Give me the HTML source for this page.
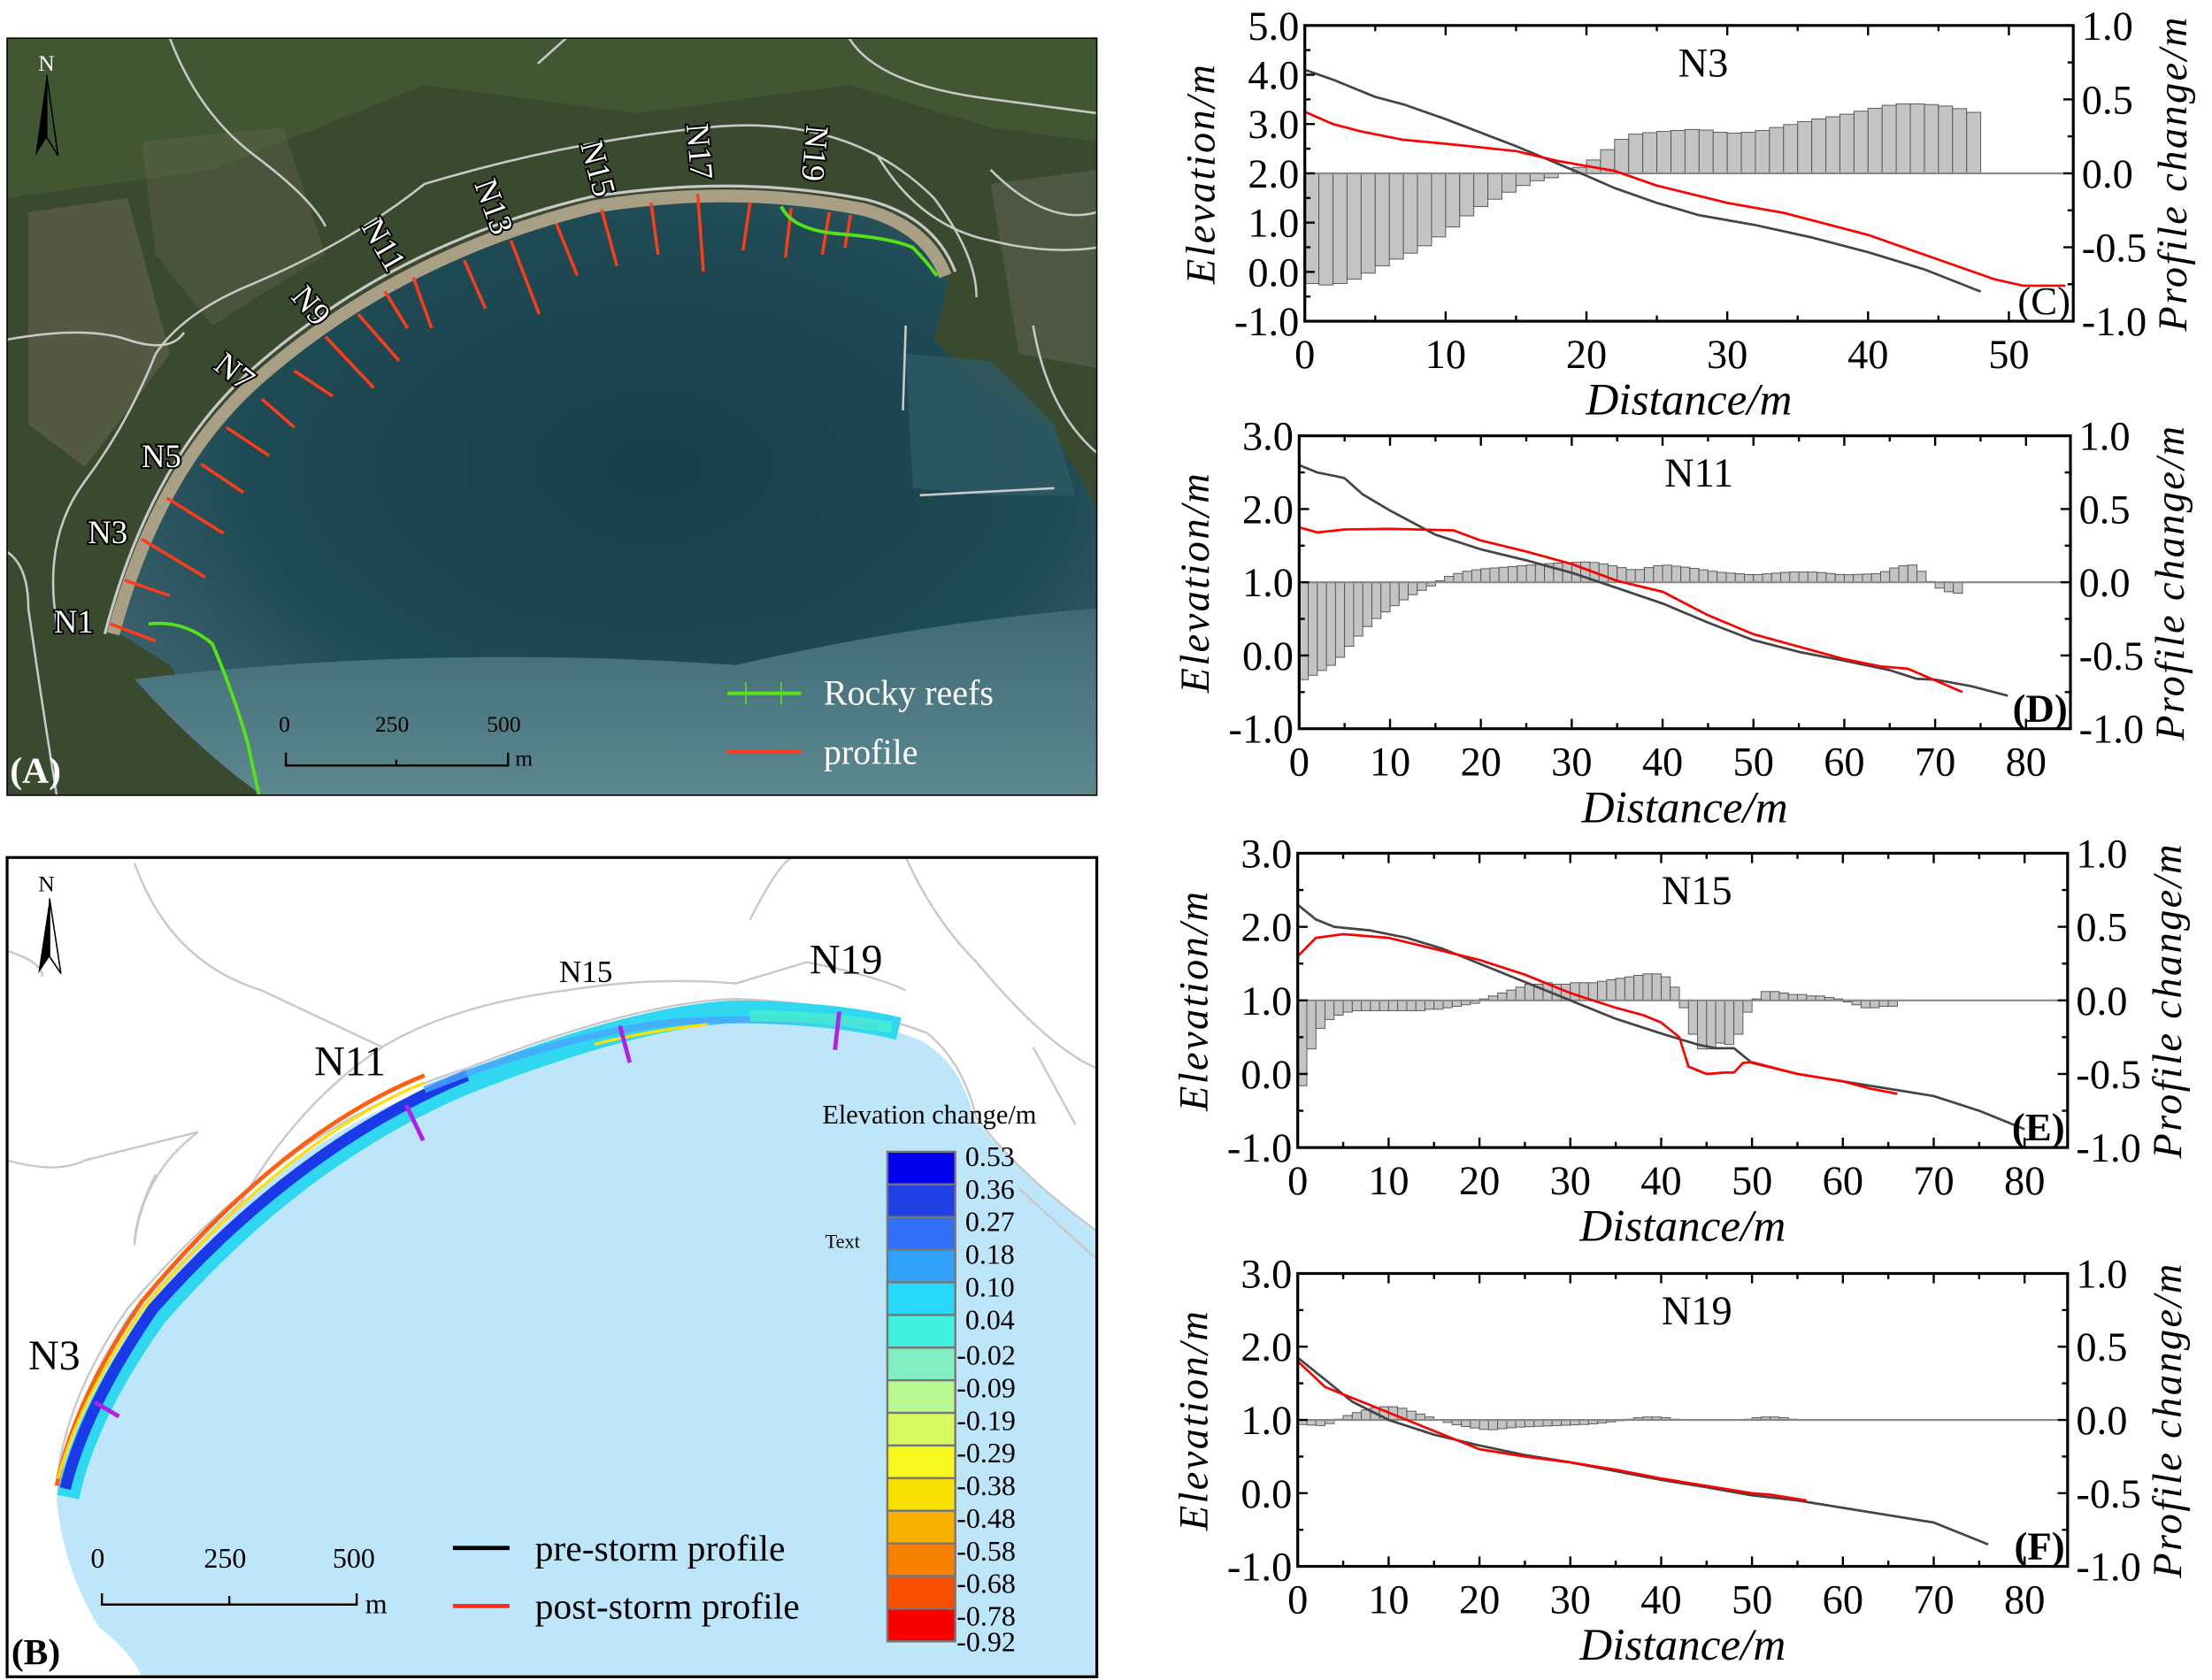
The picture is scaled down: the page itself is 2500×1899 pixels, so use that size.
<!DOCTYPE html>
<html><head><meta charset="utf-8"><style>
html,body{margin:0;padding:0;background:#fff;}
svg{display:block;}
text{font-family:"Liberation Serif",serif;}
</style></head><body>
<svg id="s" xmlns="http://www.w3.org/2000/svg" width="2500" height="1899" viewBox="0 0 1563 1187.3">
<defs>
<radialGradient id="sea" cx="0.55" cy="0.45" r="0.6">
<stop offset="0" stop-color="#173f4a"/><stop offset="0.7" stop-color="#1f4b55"/><stop offset="1" stop-color="#38606a"/>
</radialGradient>
<linearGradient id="seab" x1="0" y1="0" x2="0" y2="1">
<stop offset="0" stop-color="#3f6a74"/><stop offset="1" stop-color="#5c8890"/>
</linearGradient>
</defs>
<!-- Panel A -->
<g>
<rect x="5" y="27" width="770" height="535" fill="#3a4a2e"/>
<path d="M5 27 H775 V100 L700 90 L600 60 L450 80 L300 60 L150 120 L5 140Z" fill="#435a34" opacity="0.8"/>
<path d="M20 150 L90 140 L120 250 L60 330 L20 300Z" fill="#6d6a55" opacity="0.5"/>
<path d="M100 100 L200 90 L230 180 L150 230 L110 180Z" fill="#6a6650" opacity="0.35"/>
<path d="M700 130 L775 120 L775 260 L720 250Z" fill="#6b6a5a" opacity="0.45"/>
<!-- sea -->
<path d="M80 445 Q110 330 180 270 Q280 180 420 148 Q520 132 610 150 Q665 170 670 200 L660 240 Q700 280 740 300 Q760 330 775 360 V562 H190 Q150 520 120 470 Z" fill="url(#sea)"/>
<path d="M95 480 Q300 455 520 470 Q650 440 775 430 V562 H185 Q140 530 95 480Z" fill="url(#seab)"/>
<path d="M640 250 L700 255 L745 300 L760 350 L700 350 L645 345Z" fill="#2e5a64" opacity="0.8"/>
<!-- beach -->
<path d="M80 448 Q112 330 182 268 Q282 180 420 146 Q520 130 610 148 Q655 160 668 195" fill="none" stroke="#a99f85" stroke-width="9"/>
<path d="M74 448 Q106 326 177 262 Q278 172 418 139 Q520 123 612 141 Q660 153 675 192" fill="none" stroke="#c8c8c8" stroke-width="2"/>
<!-- roads -->
<g fill="none" stroke="#c9c9c9" stroke-width="1.6">
<path d="M40 440 Q30 380 60 340 Q90 300 110 250 Q130 220 180 200 Q250 170 300 130 Q400 100 500 90 Q600 80 660 140 Q690 180 690 210"/>
<path d="M120 27 Q140 80 180 110 Q220 140 230 160"/>
<path d="M5 240 Q60 230 90 240 Q120 250 130 235"/>
<path d="M5 390 Q20 400 20 430 Q30 500 40 562"/>
<path d="M600 27 Q620 60 700 70 L775 80"/>
<path d="M700 120 Q740 160 775 150"/>
<path d="M380 45 L400 27"/><path d="M620 110 Q650 160 700 170 Q740 180 775 175"/>
<path d="M730 230 Q740 290 775 320"/>
<path d="M640 230 L638 290"/><path d="M650 350 L745 345"/>
</g>
<!-- profiles -->
<g stroke="#ff3b1a" stroke-width="2.2">
<line x1="78" y1="441" x2="110" y2="453"/><line x1="88" y1="410" x2="120" y2="421"/>
<line x1="100" y1="381" x2="145" y2="408"/><line x1="118" y1="352" x2="158" y2="377"/>
<line x1="142" y1="328" x2="172" y2="348"/><line x1="160" y1="302" x2="190" y2="322"/>
<line x1="185" y1="282" x2="208" y2="302"/><line x1="208" y1="262" x2="235" y2="280"/>
<line x1="230" y1="238" x2="264" y2="274"/><line x1="253" y1="222" x2="282" y2="255"/>
<line x1="272" y1="206" x2="288" y2="232"/><line x1="292" y1="196" x2="305" y2="232"/>
<line x1="328" y1="184" x2="343" y2="218"/><line x1="361" y1="170" x2="381" y2="222"/>
<line x1="393" y1="158" x2="408" y2="195"/><line x1="425" y1="148" x2="436" y2="188"/>
<line x1="460" y1="143" x2="465" y2="180"/><line x1="493" y1="137" x2="497" y2="192"/>
<line x1="530" y1="143" x2="525" y2="177"/><line x1="559" y1="147" x2="555" y2="182"/>
<line x1="586" y1="150" x2="581" y2="180"/><line x1="601" y1="152" x2="597" y2="175"/>
</g>
<g fill="none" stroke="#55e21a" stroke-width="2.4">
<path d="M105 441 Q130 438 150 455 Q165 490 175 525 L183 562"/>
<path d="M552 146 Q560 162 590 165 Q630 168 645 175 Q655 185 662 195"/>
</g>
<g fill="#fff" stroke="#000" stroke-width="2.5" paint-order="stroke" font-size="23" font-family="Liberation Serif">
<text x="38" y="447">N1</text><text x="62" y="384">N3</text><text x="100" y="330">N5</text>
<text transform="translate(150,260) rotate(38)">N7</text>
<text transform="translate(205,210) rotate(50)">N9</text>
<text transform="translate(255,160) rotate(60)">N11</text>
<text transform="translate(335,130) rotate(70)">N13</text>
<text transform="translate(410,102) rotate(75)">N15</text>
<text transform="translate(485,88) rotate(85)">N17</text>
<text transform="translate(570,88) rotate(95)">N19</text>
</g>
<text x="27" y="50" font-size="16" fill="#fff" font-family="Liberation Sans">N</text>
<path d="M33 53 L25 110 L33 97Z" fill="#000"/><path d="M33 53 L41 110 L33 97Z" fill="none" stroke="#000" stroke-width="1"/>
<g stroke="#000" stroke-width="1.5" fill="none"><path d="M202 532 V541 H359 V532 M280 537 V541"/></g>
<g font-size="16" fill="#000"><text x="197" y="517">0</text><text x="265" y="517">250</text><text x="344" y="517">500</text><text x="364" y="541">m</text></g>
<line x1="514" y1="490" x2="566" y2="490" stroke="#55e21a" stroke-width="2.5"/>
<line x1="527" y1="482" x2="527" y2="498" stroke="#55e21a" stroke-width="1"/><line x1="552" y1="482" x2="552" y2="498" stroke="#55e21a" stroke-width="1"/>
<line x1="514" y1="531" x2="566" y2="531" stroke="#ff3b1a" stroke-width="2.5"/>
<g fill="#fff" font-size="25"><text x="582" y="498">Rocky  reefs</text><text x="582" y="540">profile</text></g>
<text x="7" y="553" font-size="26" font-weight="bold" fill="#fff">(A)</text>
<rect x="5" y="27" width="770" height="535" fill="none" stroke="#000" stroke-width="1"/>
</g>
<!-- Panel B -->
<g>
<rect x="5" y="606" width="770" height="579" fill="#fff"/>
<path d="M40 1060 Q45 1000 90 930 Q200 800 330 760 Q450 715 520 712 Q600 715 650 735 Q680 752 688 790 Q720 830 775 870 V1185 H100 Q95 1170 70 1150 Q45 1110 40 1060Z" fill="#bee6fa"/>
<g fill="none" stroke="#c8c8c8" stroke-width="1.5">
<path d="M40 1050 Q45 990 90 925 Q200 795 330 755 Q450 708 520 706 Q600 709 655 730 Q680 750 690 790 Q720 830 775 870"/>
<path d="M95 610 Q120 680 185 700 L270 740 Q210 780 170 850 Q120 900 100 925"/>
<path d="M5 672 Q30 680 30 690"/><path d="M5 820 Q40 830 60 820 Q100 810 140 800"/>
<path d="M140 800 Q100 830 95 880 Q95 860 110 830"/>
<path d="M270 740 Q320 710 400 700 Q460 690 520 695 L570 680 Q620 690 640 700"/>
<path d="M530 650 Q550 610 560 606"/><path d="M640 606 Q660 650 690 680 Q740 740 775 755"/>
<path d="M730 740 L760 795"/><path d="M720 840 L775 890"/>
</g>
<!-- colored strip -->
<path d="M48 1058 Q60 1000 110 930 Q210 815 330 765 Q450 718 520 715 Q590 716 635 727" fill="none" stroke="#2fd8f0" stroke-width="16"/>
<path d="M46 1052 Q60 995 108 925 Q210 810 330 760" fill="none" stroke="#1a3ae8" stroke-width="8"/>
<path d="M40 1050 Q52 990 100 920 Q200 800 300 760" fill="none" stroke="#ff6010" stroke-width="3"/>
<path d="M41 1045 Q55 990 103 922 Q203 805 300 765" fill="none" stroke="#ffe000" stroke-width="2"/>
<path d="M300 770 Q400 730 480 722 Q560 718 620 725" fill="none" stroke="#4aa6ff" stroke-width="5" opacity="0.8"/>
<path d="M420 738 Q460 728 500 724" fill="none" stroke="#ffe000" stroke-width="2"/>
<path d="M530 718 Q580 718 630 726" fill="none" stroke="#48f0d0" stroke-width="8" opacity="0.8"/>
<g stroke="#b020e8" stroke-width="3">
<line x1="67" y1="991" x2="84" y2="1001"/><line x1="287" y1="781" x2="299" y2="806"/>
<line x1="438" y1="725" x2="445" y2="751"/><line x1="593" y1="715" x2="590" y2="742"/>
</g>
<g font-size="30" fill="#000"><text x="20" y="968">N3</text><text x="222" y="760">N11</text><text x="572" y="688">N19</text></g>
<text x="395" y="694" font-size="22">N15</text>
<text x="27" y="630" font-size="16" font-family="Liberation Sans">N</text>
<path d="M35 635 L27 688 L35 676Z" fill="#000"/><path d="M35 635 L43 688 L35 676Z" fill="none" stroke="#000"/>
<text x="581" y="794" font-size="19">Elevation change/m</text>
<text x="583" y="882" font-size="14" font-family="Liberation Mono">Text</text>
<g id="cbar"></g>
<g stroke="#000" stroke-width="1.5" fill="none"><path d="M72 1126 V1134 H252 V1126 M162 1128 V1134"/></g>
<g font-size="20"><text x="64" y="1108">0</text><text x="144" y="1108">250</text><text x="235" y="1108">500</text><text x="258" y="1140">m</text>
<text x="378" y="1103" font-size="26">pre-storm profile</text><text x="378" y="1144" font-size="26">post-storm profile</text></g>
<line x1="320" y1="1094" x2="360" y2="1094" stroke="#000" stroke-width="3"/>
<line x1="320" y1="1135" x2="360" y2="1135" stroke="#ff2a1a" stroke-width="3"/>
<text x="8" y="1176" font-size="26" font-weight="bold">(B)</text>
<rect x="5" y="606" width="770" height="579" fill="none" stroke="#000" stroke-width="2"/>
</g>
<g id="charts"></g>
</svg>
<script>
(function(){
var cols=["#0000f0","#2040e8","#3070f8","#30a0f8","#28d8f8","#40f0e0","#80f0c0","#b8f890","#d8f860","#f8f820","#f8e000","#f8b000","#f88000","#f85000","#f80000"];
var labs=["0.53","0.36","0.27","0.18","0.10","0.04","-0.02","-0.09","-0.19","-0.29","-0.38","-0.48","-0.58","-0.68","-0.78","-0.92"];
var h="",y0=814,ch=(1160-814)/15;
for(var i=0;i<15;i++)h+='<rect x="627" y="'+(y0+i*ch)+'" width="48" height="'+ch+'" fill="'+cols[i]+'" stroke="#777" stroke-width="1.5"/>';
for(var i=0;i<16;i++){var y=(i==15)?1167:y0+i*ch+10+(i>5?2:0);h+='<text x="'+(labs[i][0]=="-"?676:682)+'" y="'+y+'" font-size="20">'+labs[i]+'</text>';}
document.getElementById("cbar").innerHTML=h;
})();
function chart(c){
var X=function(v){return c.x0+v*c.kx;};
var YL=function(v){return c.y1-(v-c.ymin)/(c.ymax-c.ymin)*(c.y1-c.y0);};
var YR=function(v){return c.y1-(v+1)/2*(c.y1-c.y0);};
var h="";
h+='<rect x="'+c.x0+'" y="'+c.y0+'" width="'+(c.x1-c.x0)+'" height="'+(c.y1-c.y0)+'" fill="#fff"/>';
var z=YR(0);
for(var i=0;i<c.bars.length;i++){var v=c.bars[i];var y=YR(v);
h+='<rect x="'+X(i)+'" y="'+Math.min(y,z)+'" width="'+c.kx+'" height="'+Math.abs(z-y)+'" fill="#c4c4c4" stroke="#555" stroke-width="0.6"/>';}
h+='<line x1="'+c.x0+'" y1="'+z+'" x2="'+c.x1+'" y2="'+z+'" stroke="#888" stroke-width="1.3"/>';
function pl(p,col){var s="";for(var i=0;i<p.length;i++)s+=(i?"L":"M")+X(p[i][0]).toFixed(1)+" "+YL(p[i][1]).toFixed(1);
return '<path d="'+s+'" fill="none" stroke="'+col+'" stroke-width="1.7" stroke-linejoin="round"/>';}
h+=pl(c.black,"#444");h+=pl(c.red,"#ff0000");
h+='<rect x="'+c.x0+'" y="'+c.y0+'" width="'+(c.x1-c.x0)+'" height="'+(c.y1-c.y0)+'" fill="none" stroke="#000" stroke-width="2"/>';
for(var v=0;X(v)<c.x1-1;v+=5){var x=X(v),L=(v%10==0)?7:4;
h+='<line x1="'+x+'" y1="'+c.y1+'" x2="'+x+'" y2="'+(c.y1-L)+'" stroke="#000" stroke-width="1.5"/>';
h+='<line x1="'+x+'" y1="'+c.y0+'" x2="'+x+'" y2="'+(c.y0+L)+'" stroke="#000" stroke-width="1.5"/>';
if(v%10==0&&v<=c.xmaxLab)h+='<text x="'+x+'" y="'+(c.y1+33)+'" font-size="29" text-anchor="middle">'+v+'</text>';}
var n=(c.ymax-c.ymin)*2;
for(var i=0;i<=n;i++){var y=c.y1-i/n*(c.y1-c.y0),L=(i%2==0)?7:4;
h+='<line x1="'+c.x0+'" y1="'+y+'" x2="'+(c.x0+L)+'" y2="'+y+'" stroke="#000" stroke-width="1.5"/>';
if(i%2==0){var v=c.ymin+i/2;h+='<text x="'+(c.x0-4)+'" y="'+(y+10)+'" font-size="29" text-anchor="end">'+v.toFixed(1)+'</text>';}}
for(var i=0;i<=8;i++){var y=c.y1-i/8*(c.y1-c.y0),L=(i%2==0)?7:4;
h+='<line x1="'+c.x1+'" y1="'+y+'" x2="'+(c.x1-L)+'" y2="'+y+'" stroke="#000" stroke-width="1.5"/>';
if(i%2==0){var v=-1+i/4;h+='<text x="'+(c.x1+6)+'" y="'+(y+10)+'" font-size="29">'+v.toFixed(1)+'</text>';}}
var cy=(c.y0+c.y1)/2;
h+='<text transform="translate('+(c.x0-64)+','+cy+') rotate(-90)" font-size="29" font-style="italic" text-anchor="middle" letter-spacing="1.5">Elevation/m</text>';
h+='<text transform="translate('+(c.x1+80)+','+cy+') rotate(-90)" font-size="29" font-style="italic" text-anchor="middle" letter-spacing="1.5">Profile change/m</text>';
h+='<text x="'+((c.x0+c.x1)/2)+'" y="'+(c.y1+66)+'" font-size="32" font-style="italic" text-anchor="middle">Distance/m</text>';
h+='<text x="'+((c.x0+c.x1)/2+10)+'" y="'+(c.y0+36)+'" font-size="29" text-anchor="middle">'+c.name+'</text>';
h+='<text x="'+(c.x1-2)+'" y="'+(c.y1-5)+'" font-size="28" text-anchor="end" font-weight="'+(c.bold?"bold":"normal")+'">'+c.lab+'</text>';
return h;}
function interp(pts,n){var a=[];for(var i=0;i<n;i++){var x=i+0.5;for(var j=1;j<pts.length;j++){if(x<=pts[j][0]){var p=pts[j-1],q=pts[j];a.push(p[1]+(q[1]-p[1])*(x-p[0])/(q[0]-p[0]));break;}}if(a.length<i+1)a.push(pts[pts.length-1][1]);}return a;}
var H="";
H+=chart({x0:922,x1:1465,y0:18,y1:227,kx:9.95,ymin:-1,ymax:5,xmaxLab:50,name:"N3",lab:"(C)",
bars:interp([[0,-0.74],[2,-0.76],[4,-0.7],[6,-0.6],[8,-0.52],[10,-0.4],[12,-0.25],[14,-0.15],[16,-0.06],[18,-0.02],[19,0.02],[20,0.06],[21,0.12],[22,0.2],[23,0.26],[25,0.28],[28,0.3],[30,0.27],[32,0.28],[34,0.32],[36,0.36],[38,0.39],[40,0.43],[42,0.47],[44,0.47],[46,0.45],[48,0.4]],48),
black:[[0,4.1],[2,3.9],[5,3.55],[7,3.4],[10,3.1],[15,2.55],[20,1.95],[22,1.7],[25,1.4],[28,1.15],[32,0.95],[36,0.7],[40,0.4],[44,0.05],[48,-0.4]],
red:[[0,3.25],[2,3.0],[4,2.85],[7,2.68],[10,2.6],[15,2.45],[18,2.25],[20,2.15],[22,2.05],[25,1.75],[30,1.4],[34,1.2],[40,0.75],[44,0.35],[49,-0.15],[51,-0.28],[54,-0.28]]});
H+=chart({x0:918,x1:1463,y0:308,y1:515,kx:6.42,ymin:-1,ymax:3,xmaxLab:80,name:"N11",lab:"(D)",bold:1,
bars:interp([[0,-0.68],[2,-0.62],[4,-0.55],[6,-0.4],[8,-0.27],[10,-0.18],[12,-0.1],[14,-0.04],[15,-0.01],[16,0.03],[18,0.07],[20,0.09],[24,0.11],[28,0.13],[32,0.14],[34,0.12],[37,0.08],[40,0.12],[43,0.1],[46,0.07],[50,0.05],[54,0.07],[57,0.07],[60,0.05],[64,0.06],[66,0.11],[68,0.12],[69,0.03],[70,-0.02],[71,-0.06],[73,-0.08]],73),
black:[[0,2.6],[2,2.5],[4,2.45],[5,2.42],[7,2.2],[10,1.98],[15,1.65],[20,1.45],[25,1.3],[30,1.13],[35,0.92],[40,0.71],[45,0.45],[50,0.21],[55,0.05],[60,-0.07],[65,-0.2],[68,-0.32],[70,-0.33],[74,-0.42],[78,-0.55]],
red:[[0,1.75],[2,1.68],[5,1.72],[10,1.73],[17,1.71],[20,1.57],[25,1.42],[30,1.25],[35,1.02],[40,0.87],[45,0.55],[50,0.29],[55,0.12],[60,-0.05],[64,-0.15],[67,-0.18],[73,-0.5]]});
H+=chart({x0:917,x1:1461,y0:603,y1:811,kx:6.42,ymin:-1,ymax:3,xmaxLab:80,name:"N15",lab:"(E)",bold:1,
bars:[-0.58,-0.33,-0.19,-0.13,-0.1,-0.08,-0.07,-0.07,-0.07,-0.07,-0.07,-0.07,-0.07,-0.07,-0.06,-0.06,-0.05,-0.04,-0.03,-0.02,0.01,0.03,0.05,0.07,0.09,0.11,0.11,0.12,0.11,0.11,0.12,0.12,0.12,0.13,0.14,0.15,0.16,0.17,0.18,0.18,0.16,0.09,-0.05,-0.23,-0.33,-0.33,-0.29,-0.3,-0.23,-0.08,0.01,0.06,0.06,0.05,0.04,0.04,0.03,0.03,0.02,0.01,-0.01,-0.03,-0.05,-0.05,-0.04,-0.04],
black:[[0,2.3],[2,2.1],[4,2.0],[8,1.95],[12,1.85],[16,1.7],[20,1.5],[25,1.25],[30,1.0],[35,0.75],[40,0.55],[44,0.4],[46,0.35],[48,0.35],[50,0.15],[55,0.0],[60,-0.1],[65,-0.2],[70,-0.3],[75,-0.5],[80,-0.75]],
red:[[0,1.6],[2,1.85],[5,1.9],[10,1.85],[15,1.7],[20,1.55],[25,1.35],[30,1.1],[35,0.9],[38,0.8],[40,0.7],[42,0.5],[43,0.1],[44,0.05],[45,0.0],[47,0.02],[48,0.02],[49,0.15],[50,0.16],[55,0.0],[60,-0.1],[63,-0.2],[66,-0.27]]});
H+=chart({x0:917,x1:1461,y0:900,y1:1107,kx:6.42,ymin:-1,ymax:3,xmaxLab:80,name:"N19",lab:"(F)",bold:1,
bars:interp([[0,-0.03],[3,-0.04],[4,-0.01],[5,0.02],[7,0.06],[9,0.09],[11,0.09],[13,0.05],[15,0.01],[16,-0.01],[18,-0.04],[21,-0.07],[24,-0.05],[28,-0.04],[32,-0.03],[35,-0.01],[36,0],[38,0.02],[40,0.02],[42,0.0],[44,0],[49,0],[51,0.02],[53,0.02],[55,0.0],[56,0]],56),
black:[[0,1.85],[3,1.55],[6,1.25],[10,1.0],[15,0.8],[20,0.65],[25,0.52],[30,0.42],[35,0.3],[40,0.18],[45,0.08],[50,-0.03],[55,-0.1],[60,-0.2],[65,-0.3],[70,-0.4],[76,-0.7]],
red:[[0,1.8],[3,1.45],[5,1.35],[8,1.2],[12,1.0],[16,0.8],[20,0.6],[25,0.5],[30,0.42],[35,0.32],[40,0.2],[45,0.1],[50,0.0],[52,-0.02],[56,-0.1]]});
document.getElementById("charts").innerHTML=H;
</script>
</body></html>
